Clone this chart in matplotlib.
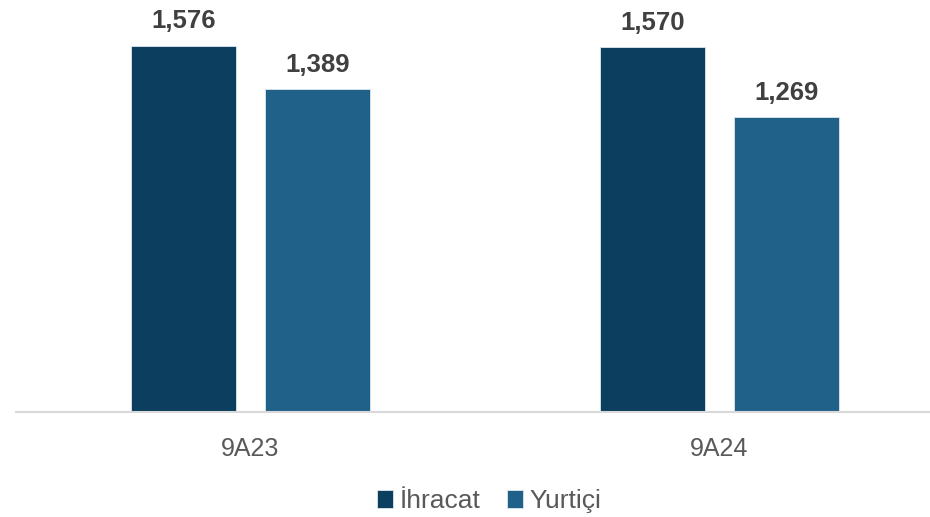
import matplotlib.pyplot as plt
import numpy as np

# Data
categories = ["9A23", "9A24"]
series_names = ["İhracat", "Yurtiçi"]
ihracat = [1576, 1570]
yurtici = [1389, 1269]

colors = ["#0C3E5F", "#20618A"]

plt.rcParams['font.family'] = ['Liberation Sans', 'DejaVu Sans']

fig = plt.figure(figsize=(9.3, 5.17), dpi=100)
# axes spans past the right edge so category spacing matches the original
ax = fig.add_axes([16/930, 1 - 412/517, 938/930, 412/517])

x = np.arange(len(categories))
width = 0.224
offset = 0.1429

bars1 = ax.bar(x - offset, ihracat, width, color=colors[0], edgecolor="#DDE6EE",
               linewidth=0.6, label=series_names[0])
bars2 = ax.bar(x + offset, yurtici, width, color=colors[1], edgecolor="#DDE6EE",
               linewidth=0.6, label=series_names[1])

for bars in (bars1, bars2):
    for b in bars:
        ax.annotate(f"{int(b.get_height()):,}", (b.get_x() + b.get_width() / 2, b.get_height()),
                    xytext=(0, 9), textcoords="offset points", ha="center", va="bottom",
                    fontsize=18.5, fontweight="bold", color="#404040")

ax.set_xlim(-0.5, 1.5)
ax.set_ylim(0, 1774)
ax.set_xticks(x)
ax.set_xticklabels(categories, fontsize=18, color="#595959")
ax.tick_params(axis="x", length=0, pad=18)
ax.set_yticks([])
for s in ["top", "right", "left"]:
    ax.spines[s].set_visible(False)
ax.spines["bottom"].set_color("#D9D9D9")
ax.spines["bottom"].set_linewidth(1.5)

fig.legend(loc="center", bbox_to_anchor=(0.526, 0.031), ncol=2, frameon=False,
           fontsize=19, handlelength=0.62, handleheight=0.66, handletextpad=0.25,
           columnspacing=1.0, labelcolor="#595959")

plt.savefig("out.png", dpi=100)
